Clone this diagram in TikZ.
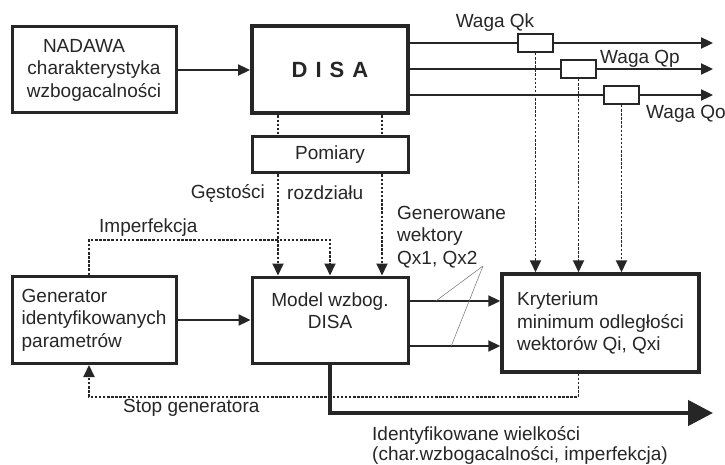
\documentclass[tikz,border=0pt]{standalone}
\usepackage{fontspec}
\setmainfont{Liberation Sans}
\usetikzlibrary{arrows.meta,calc}
\begin{document}
\begin{tikzpicture}[x=1pt,y=-1pt,
  box/.style={draw=black!85, line width=3pt, fill=white, inner sep=0pt, text=black!85, font=\fontsize{19}{22.5}\selectfont},
  wbox/.style={draw=black!85, line width=2pt, fill=white, minimum width=35pt, minimum height=18pt, inner sep=0pt},
  lab/.style={font=\fontsize{19}{22.5}\selectfont, text=black!85, inner sep=0pt},
  tip/.style={-{Triangle[length=12pt,width=11pt]}},
  conn/.style={draw=black!85, line width=2.3pt},
  dashline/.style={draw=black!85, line width=1.9pt, dash pattern=on 2.5pt off 1.6pt},
  pointer/.style={draw=black!55, line width=0.5pt}
]
\useasboundingbox[fill=white] (0,0) rectangle (725,465);

% main boxes
\node[box, minimum width=164pt, minimum height=86pt, align=center] (nad) at (94,70)
  {NADAWA\hspace*{20pt}\\charakterystyka\\wzbogacalności};
\node[box, line width=4pt, minimum width=156pt, minimum height=87pt,
  font=\fontsize{22}{26}\selectfont\bfseries] (disa) at (330,70)
  {D\hspace{8pt}I\hspace{8pt}S\hspace{8pt}A};
\node[box, minimum width=156pt, minimum height=36pt] (pom) at (330,155) {Pomiary};
\node[box, minimum width=156pt, minimum height=86pt, align=center] (model) at (330,320)
  {Model wzbog.\\DISA\\[-4pt]};
\node[box, minimum width=164pt, minimum height=87pt, align=left] (gen) at (94,320)
  {Generator\\identyfikowanych\\parametrów};
\node[box, line width=3.5pt, minimum width=197pt, minimum height=98pt, align=left] (kry) at (600.5,323)
  {Kryterium\\minimum odległości\\wektorów Qi, Qxi};

% weight boxes
\node[wbox] (wk) at (535.5,43) {};
\node[wbox] (wp) at (578.5,69) {};
\node[wbox] (wo) at (621.5,95) {};
\coordinate (ek) at (713,43);
\coordinate (ep) at (713,69);
\coordinate (eo) at (713,95);

% output lines of DISA
\draw[conn] (disa.east |- wk.west) -- (wk.west);
\draw[conn, tip] (wk.east) -- (ek);
\draw[conn] (disa.east |- wp.west) -- (wp.west);
\draw[conn, tip] (wp.east) -- (ep);
\draw[conn] (disa.east |- wo.west) -- (wo.west);
\draw[conn, tip] (wo.east) -- (eo);

% NADAWA -> DISA, Generator -> Model
\draw[conn, tip] (nad.east) -- (disa.west |- nad.east);
\draw[conn, tip] (gen.east) -- (model.west |- gen.east);

% Model -> Kryterium (two vectors)
\coordinate (a1s) at (model.east |- 0,301);
\coordinate (a1e) at (kry.west |- 0,301);
\coordinate (a2s) at (model.east |- 0,346);
\coordinate (a2e) at (kry.west |- 0,346);
\draw[conn, tip] (a1s) -- (a1e);
\draw[conn, tip] (a2s) -- (a2e);

% dashed measurement lines
\coordinate (dl) at ($(disa.south)+(-52,0)$);
\coordinate (dr) at ($(disa.south)+(52,0)$);
\draw[dashline] (dl) -- (dl |- pom.north);
\draw[dashline] (dr) -- (dr |- pom.north);
\draw[dashline, tip] (dl |- pom.south) -- (dl |- model.north);
\draw[dashline, tip] (dr |- pom.south) -- (dr |- model.north);

% Imperfekcja
\coordinate (gt) at ($(gen.north)+(-5,0)$);
\draw[dashline, tip] (gt) -- ($(gt)+(0,-35)$) -| (model.north);

% weights -> Kryterium
\draw[dashline, tip] (wk.south) -- (wk.south |- kry.north);
\draw[dashline, tip] (wp.south) -- (wp.south |- kry.north);
\draw[dashline, tip] (wo.south) -- (wo.south |- kry.north);

% Stop generatora
\coordinate (gb) at ($(gen.south)+(-5,0)$);
\draw[dashline, tip] (wp.south |- kry.south) -- ++(0,23) -| (gb);

% identified output
\coordinate (ie) at (713,413);
\draw[draw=black!85, line width=4.5pt, -{Triangle[length=25pt,width=25pt]}]
  (model.south) -- (model.south |- ie) -- (ie);

% pointer lines for generated vectors
\coordinate (gv) at (483,266);
\draw[pointer] (gv) -- ($(a1s)!0.29!(a1e)$);
\draw[pointer] (gv) -- ($(a2s)!0.46!(a2e)$);

% labels
\node[lab] (lqk) at (495,23) {Waga Qk};
\node[lab, anchor=west] (lqp) at (600,59) {Waga Qp};
\node[lab, anchor=west] (lqo) at (646,114) {Waga Qo};
\node[lab, anchor=east] (lg) at (265,193) {Gęstości};
\node[lab, anchor=west] (lr) at (287,193) {rozdziału};
\node[lab, anchor=west] (limp) at (99,228) {Imperfekcja};
\node[lab, anchor=north west, align=left] (lgen) at (397,206)
  {Generowane\\wektory\\Qx1, Qx2};
\node[lab, anchor=west] (lstop) at (123,408) {Stop generatora};
\node[lab, anchor=north west, align=left, font=\fontsize{19}{20}\selectfont] (lid) at (372,426)
  {Identyfikowane wielkości\\(char.wzbogacalności, imperfekcja)};
\end{tikzpicture}
\end{document}
